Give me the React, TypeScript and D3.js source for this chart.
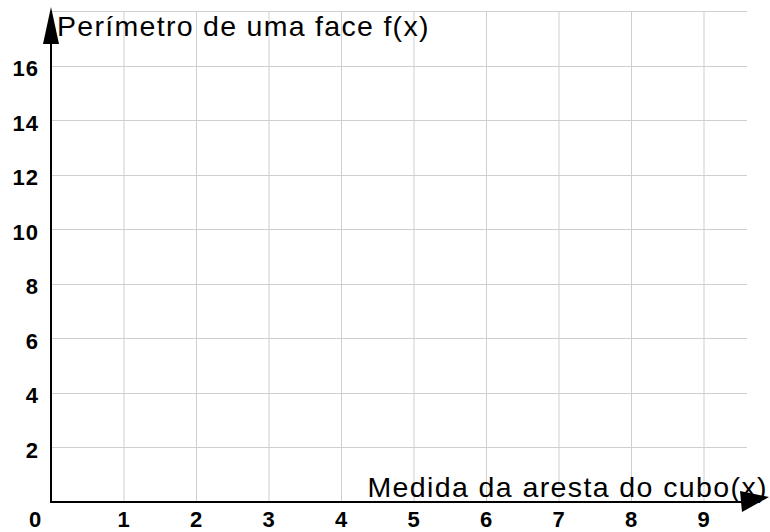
import { useRef, useEffect } from "react";
import * as d3 from "d3";

const xTicks = [1, 2, 3, 4, 5, 6, 7, 8, 9];
const yTicks = [2, 4, 6, 8, 10, 12, 14, 16];
const yGrid = [2, 4, 6, 8, 10, 12, 14, 16, 18];
const xTitle = "Medida da aresta do cubo(x)";
const yTitle = "Perímetro de uma face f(x)";

const App: React.FC = () => {
    const svgRef = useRef(null);

    useEffect(() => {
        const svg = d3.select(svgRef.current);
        svg.selectAll("*").remove();

        const width = 770;
        const height = 532;
        const font = "'Liberation Sans', Arial, Helvetica, sans-serif";

        const xScale = d3.scaleLinear().domain([0, 10]).range([51, 776]);
        const yScale = d3.scaleLinear().domain([0, 18]).range([502, 11]);

        svg.append("rect").attr("width", width).attr("height", height).attr("fill", "#fff");

        // grid
        svg.append("g")
            .selectAll("line")
            .data(xTicks)
            .join("line")
            .attr("x1", d => xScale(d) + 0.5)
            .attr("x2", d => xScale(d) + 0.5)
            .attr("y1", yScale(18))
            .attr("y2", yScale(0))
            .attr("stroke", "#cfcfcf")
            .attr("stroke-width", 1);

        svg.append("g")
            .selectAll("line")
            .data(yGrid)
            .join("line")
            .attr("x1", xScale(0))
            .attr("x2", xScale(9.6))
            .attr("y1", d => Math.round(yScale(d)) + 0.5)
            .attr("y2", d => Math.round(yScale(d)) + 0.5)
            .attr("stroke", "#cfcfcf")
            .attr("stroke-width", 1);

        // axes
        svg.append("line")
            .attr("x1", xScale(0))
            .attr("x2", 745)
            .attr("y1", yScale(0))
            .attr("y2", yScale(0))
            .attr("stroke", "#000")
            .attr("stroke-width", 2);

        svg.append("line")
            .attr("x1", xScale(0))
            .attr("x2", xScale(0))
            .attr("y1", yScale(0) + 1)
            .attr("y2", 40)
            .attr("stroke", "#000")
            .attr("stroke-width", 2);

        // arrow heads
        const x0 = xScale(0);
        svg.append("path")
            .attr("d", `M${x0},7 L${x0 - 8},44 L${x0 + 8},44 Z`)
            .attr("fill", "#000");
        svg.append("path")
            .attr("d", `M769,497 L740,491 L742,512 Z`)
            .attr("fill", "#000");

        // tick labels
        svg.append("g")
            .selectAll("text")
            .data(xTicks)
            .join("text")
            .attr("x", d => xScale(d))
            .attr("y", 527)
            .attr("text-anchor", "middle")
            .attr("font-family", font)
            .attr("font-weight", "bold")
            .attr("font-size", 22)
            .text(d => d);

        svg.append("text")
            .attr("x", 35)
            .attr("y", 527)
            .attr("text-anchor", "middle")
            .attr("font-family", font)
            .attr("font-weight", "bold")
            .attr("font-size", 22)
            .text("0");

        svg.append("g")
            .selectAll("text")
            .data(yTicks)
            .join("text")
            .attr("x", 39)
            .attr("y", d => yScale(d) + 10.5)
            .attr("text-anchor", "end")
            .attr("font-family", font)
            .attr("font-weight", "bold")
            .attr("font-size", 22)
            .attr("letter-spacing", 1)
            .text(d => d);

        // titles
        svg.append("text")
            .attr("x", 57)
            .attr("y", 36)
            .attr("font-family", font)
            .attr("font-size", 28.5)
            .attr("letter-spacing", 1.3)
            .text(yTitle);

        svg.append("text")
            .attr("x", 768)
            .attr("y", 497)
            .attr("text-anchor", "end")
            .attr("font-family", font)
            .attr("font-size", 28.5)
            .attr("letter-spacing", 1.4)
            .text(xTitle);
    }, []);

    return (
        <svg ref={svgRef} width={770} height={532} style={{ position: "absolute", left: 0, top: 0 }}></svg>
    );
};

export default App;
